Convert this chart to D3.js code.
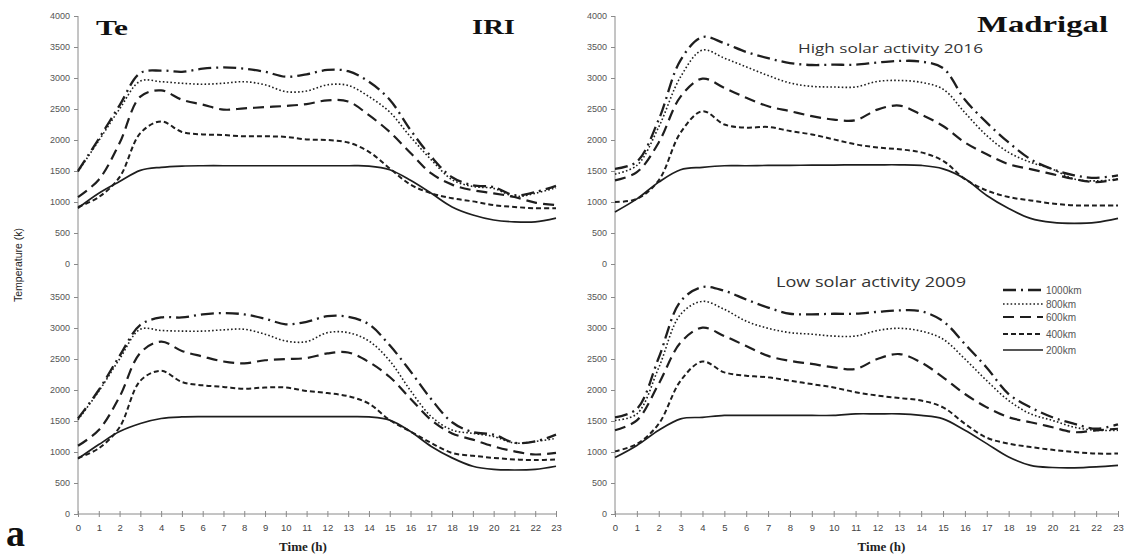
<!DOCTYPE html>
<html><head><meta charset="utf-8">
<script src="https://cdn.jsdelivr.net/npm/d3@7"></script>
<style>
html,body{margin:0;padding:0;background:#fff;}
svg{display:block;}
</style></head>
<body>
<svg id="chart" width="1126" height="556"></svg>
<script>
// ---------- DATA ----------
const hours = d3.range(0, 24);
const altitudes = ["1000km", "800km", "600km", "400km", "200km"];
const yTicksTop = [0, 500, 1000, 1500, 2000, 2500, 3000, 3500, 4000];
const yTicksBottom = [0, 500, 1000, 1500, 2000, 2500, 3000, 3500];

// IRI, high solar activity (top-left)
const iriHigh1000 = [1500, 2020, 2560, 3080, 3120, 3100, 3150, 3170, 3150, 3100, 3020, 3060, 3130, 3110, 2940, 2650, 2160, 1730, 1400, 1270, 1240, 1110, 1160, 1260];
const iriHigh800  = [1490, 1990, 2500, 2950, 2940, 2915, 2900, 2915, 2940, 2890, 2780, 2790, 2890, 2880, 2700, 2450, 2050, 1680, 1360, 1250, 1220, 1090, 1140, 1230];
const iriHigh600  = [1080, 1360, 1950, 2700, 2800, 2650, 2570, 2490, 2510, 2530, 2550, 2580, 2640, 2620, 2400, 2130, 1790, 1460, 1280, 1190, 1140, 1080, 990, 950];
const iriHigh400  = [920, 1080, 1400, 2110, 2300, 2130, 2090, 2080, 2060, 2060, 2050, 2010, 2000, 1960, 1810, 1540, 1280, 1140, 1060, 1010, 950, 920, 900, 900];
const iriHigh200  = [900, 1140, 1330, 1510, 1560, 1580, 1585, 1585, 1585, 1585, 1585, 1585, 1585, 1585, 1580, 1520, 1350, 1140, 920, 790, 710, 680, 680, 740];

// IRI, low solar activity (bottom-left)
const iriLow1000 = [1540, 2000, 2550, 3050, 3170, 3170, 3220, 3240, 3220, 3150, 3060, 3100, 3190, 3180, 3060, 2720, 2300, 1850, 1480, 1320, 1280, 1150, 1170, 1280];
const iriLow800  = [1520, 1980, 2500, 2980, 2960, 2950, 2950, 2970, 2980, 2900, 2790, 2780, 2925, 2925, 2790, 2470, 1990, 1570, 1355, 1300, 1250, 1145, 1170, 1220];
const iriLow600  = [1100, 1355, 1890, 2600, 2780, 2630, 2540, 2460, 2430, 2480, 2500, 2515, 2590, 2605, 2450, 2210, 1860, 1515, 1300, 1200, 1090, 1010, 960, 985];
const iriLow400  = [905, 1060, 1400, 2150, 2310, 2130, 2075, 2050, 2020, 2040, 2040, 1985, 1950, 1900, 1780, 1515, 1330, 1145, 985, 940, 905, 880, 870, 880];
const iriLow200  = [890, 1120, 1330, 1460, 1540, 1565, 1570, 1570, 1570, 1570, 1570, 1570, 1570, 1570, 1565, 1515, 1330, 1090, 905, 770, 720, 710, 720, 770];

// Madrigal, high solar activity 2016 (top-right)
const madHigh1000 = [1535, 1650, 2330, 3290, 3660, 3560, 3420, 3320, 3240, 3210, 3215, 3215, 3250, 3275, 3265, 3160, 2650, 2280, 1960, 1690, 1530, 1430, 1390, 1430];
const madHigh800  = [1450, 1590, 2210, 3020, 3450, 3320, 3180, 3040, 2920, 2865, 2855, 2855, 2945, 2960, 2930, 2820, 2440, 2070, 1800, 1640, 1530, 1370, 1340, 1370];
const madHigh600  = [1350, 1480, 1960, 2700, 2990, 2840, 2680, 2545, 2465, 2385, 2330, 2320, 2490, 2555, 2410, 2225, 1960, 1770, 1610, 1530, 1450, 1370, 1320, 1370];
const madHigh400  = [1000, 1050, 1350, 2120, 2465, 2250, 2200, 2210, 2145, 2090, 2010, 1930, 1880, 1850, 1800, 1665, 1370, 1185, 1080, 1025, 975, 945, 945, 945];
const madHigh200  = [840, 1050, 1320, 1520, 1560, 1585, 1585, 1590, 1590, 1595, 1595, 1600, 1600, 1600, 1590, 1535, 1375, 1105, 895, 735, 670, 655, 670, 735];

// Madrigal, low solar activity 2009 (bottom-right)
const madLow1000 = [1560, 1695, 2520, 3430, 3660, 3600, 3460, 3330, 3230, 3220, 3230, 3230, 3260, 3285, 3270, 3110, 2740, 2360, 1935, 1720, 1560, 1455, 1375, 1445];
const madLow800  = [1510, 1615, 2360, 3220, 3430, 3300, 3110, 2995, 2925, 2900, 2870, 2870, 2960, 2995, 2950, 2820, 2500, 2150, 1830, 1615, 1510, 1400, 1350, 1350];
const madLow600  = [1350, 1510, 2100, 2765, 3005, 2870, 2710, 2550, 2470, 2420, 2365, 2340, 2500, 2580, 2445, 2205, 1935, 1720, 1560, 1480, 1400, 1320, 1350, 1375];
const madLow400  = [1010, 1130, 1455, 2150, 2460, 2285, 2230, 2205, 2150, 2095, 2040, 1965, 1910, 1870, 1830, 1720, 1455, 1230, 1135, 1080, 1035, 1000, 975, 975];
const madLow200  = [910, 1105, 1350, 1535, 1560, 1590, 1590, 1590, 1590, 1590, 1590, 1615, 1615, 1615, 1590, 1535, 1350, 1135, 920, 785, 750, 745, 760, 785];

// ---------- STYLES ----------
const styles = {
  "1000km": {dash: "13,5,2,5", width: 2.3},
  "800km":  {dash: "1.6,2.2",   width: 1.6},
  "600km":  {dash: "11,6",      width: 2.2},
  "400km":  {dash: "5,3",       width: 2.0},
  "200km":  {dash: null,        width: 1.7}
};
const lineColor = "#1e1e1e";

const svg = d3.select("#chart");

const cols = [
  {x0: 78, x1: 556},
  {x0: 615, x1: 1118}
];
const rows = [
  {zeroY: 264, topY: 16},
  {zeroY: 514, topY: 266}
];

const panels = [
  {col: 0, row: 0, series: [iriHigh1000, iriHigh800, iriHigh600, iriHigh400, iriHigh200]},
  {col: 0, row: 1, series: [iriLow1000, iriLow800, iriLow600, iriLow400, iriLow200]},
  {col: 1, row: 0, series: [madHigh1000, madHigh800, madHigh600, madHigh400, madHigh200]},
  {col: 1, row: 1, series: [madLow1000, madLow800, madLow600, madLow400, madLow200]}
];

const tickFont = "'Liberation Sans', Arial, sans-serif";

// ---------- AXES ----------
cols.forEach((c, ci) => {
  const x = d3.scaleLinear().domain([0, 23]).range([c.x0, c.x1]);
  svg.append("line").attr("x1", c.x0).attr("x2", c.x0).attr("y1", rows[0].topY).attr("y2", rows[1].zeroY)
    .attr("stroke", "#8a8a8a").attr("stroke-width", 1);

  rows.forEach((r, ri) => {
    const y = d3.scaleLinear().domain([0, 4000]).range([r.zeroY, r.topY]);
    const ax = d3.axisLeft(y).tickValues(ri === 0 ? yTicksTop : yTicksBottom)
      .tickFormat(d3.format("d")).tickSize(4).tickPadding(4);
    const g = svg.append("g").attr("transform", `translate(${c.x0},0)`).call(ax);
    g.select(".domain").remove();
    g.selectAll(".tick line").attr("stroke", "#8a8a8a");
    g.selectAll(".tick text").attr("fill", "#555").style("font-family", tickFont).style("font-size", "9px");
  });

  const xa = d3.axisBottom(x).tickValues(hours).tickSize(3).tickPadding(7);
  const gx = svg.append("g").attr("transform", `translate(0,${rows[1].zeroY})`).call(xa);
  gx.select(".domain").attr("stroke", "#8a8a8a").attr("d", `M${c.x0},0H${c.x1}`);
  gx.selectAll(".tick line").attr("stroke", "#8a8a8a").attr("y1", -3).attr("y2", 3);
  gx.selectAll(".tick text").attr("fill", "#444").style("font-family", tickFont).style("font-size", "9.5px");

  svg.append("text").attr("x", (c.x0 + c.x1) / 2 - (ci === 0 ? 14 : 0) + (ci === 1 ? 15 : 0)).attr("y", 551)
    .attr("text-anchor", "middle").style("font-family", "'Liberation Serif', 'Times New Roman', serif")
    .style("font-weight", "bold").style("font-size", "13px").attr("fill", "#222").text("Time (h)");
});

// ---------- LINES ----------
panels.forEach(p => {
  const c = cols[p.col], r = rows[p.row];
  const x = d3.scaleLinear().domain([0, 23]).range([c.x0, c.x1]);
  const y = d3.scaleLinear().domain([0, 4000]).range([r.zeroY, r.topY]);
  const line = d3.line().x((d, i) => x(hours[i])).y(d => y(d)).curve(d3.curveCatmullRom.alpha(0.5));
  p.series.slice().reverse().forEach((s, k) => {
    const name = altitudes[altitudes.length - 1 - k];
    const st = styles[name];
    svg.append("path").attr("d", line(s)).attr("fill", "none")
      .attr("stroke", lineColor).attr("stroke-width", st.width)
      .attr("stroke-dasharray", st.dash).attr("stroke-linecap", "butt");
  });
});

// ---------- LEGEND ----------
const lg = svg.append("g").attr("transform", "translate(1003,0)");
const legendY = [290, 304, 317, 334, 350];
altitudes.forEach((a, i) => {
  const st = styles[a];
  lg.append("line").attr("x1", 0).attr("x2", 40).attr("y1", legendY[i]).attr("y2", legendY[i])
    .attr("stroke", lineColor).attr("stroke-width", st.width).attr("stroke-dasharray", st.dash);
  lg.append("text").attr("x", 43).attr("y", legendY[i] + 3.5).text(a)
    .style("font-family", tickFont).style("font-size", "10px").attr("fill", "#555");
});

// ---------- TITLES ----------
const serif = "'Liberation Serif', 'Times New Roman', serif";
function bigText(t, x, y, size, len) {
  svg.append("text").attr("x", x).attr("y", y).text(t)
    .style("font-family", serif).style("font-weight", "bold").style("font-size", size + "px")
    .attr("fill", "#111").attr("textLength", len).attr("lengthAdjust", "spacingAndGlyphs");
}
bigText("Te", 96, 35, 22, 32);
bigText("IRI", 472, 34, 22, 43);
bigText("Madrigal", 977, 32, 23, 131);
svg.append("text").attr("x", 6).attr("y", 546).text("a")
  .style("font-family", serif).style("font-weight", "bold").style("font-size", "38px").attr("fill", "#111");

svg.append("text").attr("x", 798).attr("y", 53).text("High solar activity 2016")
  .style("font-family", "'Open Sans', sans-serif").style("font-size", "13px").attr("fill", "#333")
  .attr("textLength", 185).attr("lengthAdjust", "spacingAndGlyphs");
svg.append("text").attr("x", 776).attr("y", 287).text("Low solar activity 2009")
  .style("font-family", "'Open Sans', sans-serif").style("font-size", "14px").attr("fill", "#333")
  .attr("textLength", 190).attr("lengthAdjust", "spacingAndGlyphs");

svg.append("text").attr("transform", "translate(22,265) rotate(-90)").attr("text-anchor", "middle")
  .text("Temperature (k)").style("font-family", "'Liberation Sans Narrow', 'Liberation Sans', sans-serif")
  .style("font-size", "10.5px").attr("fill", "#222");
</script>
</body></html>
